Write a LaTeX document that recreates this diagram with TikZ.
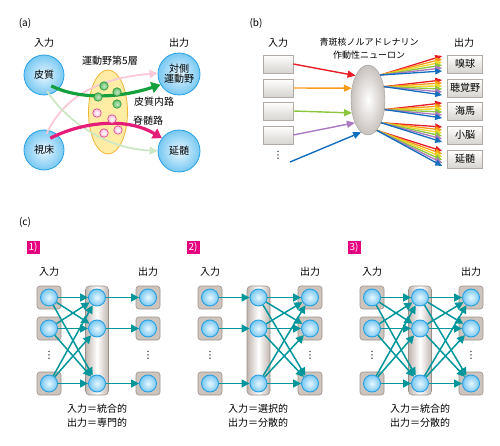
\documentclass[tikz,border=0pt]{standalone}
\usepackage{fontspec}
\setmainfont{Noto Sans CJK JP}
\newfontfamily\dotsfont{DejaVu Sans}
\usetikzlibrary{shapes.geometric,arrows.meta,calc,positioning}

\definecolor{cirin}{RGB}{232,247,255}
\definecolor{cirout}{RGB}{120,200,242}
\definecolor{cirline}{RGB}{40,160,228}
\definecolor{layerfill}{RGB}{255,236,165}
\definecolor{layerline}{RGB}{242,180,55}
\definecolor{gdotline}{RGB}{40,150,60}
\definecolor{gdotfill}{RGB}{95,190,100}
\definecolor{pdotline}{RGB}{228,60,140}
\definecolor{pdotfill}{RGB}{250,190,215}
\definecolor{garrow}{RGB}{20,160,60}
\definecolor{marrow}{RGB}{228,30,120}
\definecolor{lparrow}{RGB}{250,200,215}
\definecolor{lgarrow}{RGB}{205,230,195}
\definecolor{rbred}{RGB}{230,30,40}
\definecolor{rborange}{RGB}{245,155,25}
\definecolor{rbyellow}{RGB}{238,215,40}
\definecolor{rbgreen}{RGB}{140,198,60}
\definecolor{rbpurple}{RGB}{172,120,190}
\definecolor{rbblue}{RGB}{20,110,190}
\definecolor{boxgray}{RGB}{215,212,208}
\definecolor{boxline}{RGB}{175,170,165}
\definecolor{lcgray}{RGB}{200,194,190}
\definecolor{cellfill}{RGB}{205,196,190}
\definecolor{cellline}{RGB}{155,145,140}
\definecolor{bargray}{RGB}{192,182,176}
\definecolor{tealline}{RGB}{0,150,155}
\definecolor{tagpink}{RGB}{228,0,126}

\tikzset{
  region/.style={circle, minimum size=40pt, inner sep=0pt, align=center,
    shading=radial, inner color=cirin, outer color=cirout, draw=cirline, line width=0.8pt},
  gdot/.style={circle, minimum size=8.5pt, inner sep=0pt,
    shading=radial, inner color=gdotfill!35!white, outer color=gdotfill, draw=gdotline, line width=0.6pt},
  pdot/.style={circle, minimum size=8.5pt, inner sep=0pt,
    shading=radial, inner color=white, outer color=pdotfill, draw=pdotline, line width=0.6pt},
  thickpath/.style={line width=3.2pt, -{Triangle[length=9pt,width=11pt]}, shorten <=-8pt},
  thinpath/.style={line width=1.8pt, -{Triangle[length=8pt,width=8pt]}, shorten <=-4pt},
  srcbox/.style={rectangle, minimum width=30pt, minimum height=18pt, inner sep=0pt,
    top color=white, bottom color=boxgray, draw=boxline, line width=0.6pt},
  inpath/.style={line width=1.4pt, -{Triangle[length=8pt,width=7pt]}},
  fanpath/.style={line width=1.3pt, -{Triangle[length=7pt,width=6pt]}},
  cellbox/.style={rectangle, rounded corners=3pt, minimum width=24pt, minimum height=23pt,
    fill=cellfill, draw=cellline, line width=0.6pt},
  cell/.style={circle, minimum size=17pt, inner sep=0pt,
    shading=radial, inner color=cirin, outer color=cirout, draw=cirline, line width=0.9pt},
  hubbar/.style={rectangle, rounded corners=4pt, minimum width=23pt, minimum height=109pt,
    left color=bargray, right color=bargray, middle color=white, draw=cellline, line width=0.6pt},
  link/.style={tealline, line width=1.5pt, -{Triangle[length=8pt,width=8pt]}},
  vdotsnode/.style={inner sep=0pt, font=\dotsfont\fontsize{10}{12}\selectfont},
  numtag/.style={fill=tagpink, text=white, inner sep=1pt, minimum width=13pt, minimum height=13pt,
    font=\fontsize{10}{11}\selectfont},
  caption/.style={align=center, font=\fontsize{10}{14}\selectfont}
}

\begin{document}
\begin{tikzpicture}[x=1pt, y=-1pt, font=\fontsize{10}{12}\selectfont]
\useasboundingbox (0,0) rectangle (500,446);

% (a)
\node (tag-a) at (25,23) {(a)};
\node (ina) at (44,43) {入力};
\node (outa) at (179,43) {出力};
\node[region] (cortex) at (44,75) {皮質};
\node[region] (thalamus) at (44,150) {視床};
\node[region, minimum size=42pt] (motor) at (179,74) {対側\\[-2pt]運動野};
\node[region, minimum size=42pt] (medulla) at (179,151) {延髄};
\node[ellipse, minimum width=39pt, minimum height=84pt, inner sep=0pt,
  fill=layerfill, draw=layerline, line width=0.8pt] (layer5) at (108,112) {};
\node (layer5-lbl) at (110,61) {運動野第5層};
\node (cc-lbl) at (154,102) {皮質内路};
\node (cs-lbl) at (148,121) {脊髄路};

\draw[thinpath, lparrow] (thalamus.78) .. controls (65,95) and (100,78) .. (motor.178);
\draw[thinpath, lgarrow] (cortex.-75) .. controls (62,115) and (100,148) .. (medulla.180);
\draw[thickpath, garrow] (cortex.-45) .. controls (80,100) and (120,98) .. (motor.-150);
\draw[thickpath, marrow] (thalamus.49) .. controls (80,123) and (125,116) .. (medulla.143);

\node[gdot] (g1) at (104,86) {};
\node[gdot] (g2) at (117,92) {};
\node[gdot] (g3) at (98,97) {};
\node[gdot] (g4) at (117,104) {};
\node[pdot] (p1) at (97,113) {};
\node[pdot] (p2) at (112,119) {};
\node[pdot] (p3) at (118,130) {};
\node[pdot] (p4) at (104,133) {};

% (b)
\node (tag-b) at (256,23) {(b)};
\node (inb) at (278,43) {入力};
\node (outb) at (464,43) {出力};
\node[align=center, font=\fontsize{9}{13}\selectfont] (lc-lbl) at (369,49) {青斑核ノルアドレナリン\\作動性ニューロン};
\node[ellipse, minimum width=34pt, minimum height=70pt, inner sep=0pt,
  shading=radial, inner color=white, outer color=lcgray, draw=lcgray!80!black, line width=0.4pt] (lc) at (368,100) {};

\node[srcbox] (inb1) at (278,64) {};
\node[srcbox] (inb2) at (278,88) {};
\node[srcbox] (inb3) at (278,111) {};
\node[srcbox] (inb4) at (278,135) {};
\node[vdotsnode] (inb-dots) at (278,155) {⋮};
\coordinate (in5) at (290,162);

\node[srcbox, minimum width=35pt] (outb1) at (465,64) {嗅球};
\node[srcbox, minimum width=35pt] (outb2) at (465,88) {聴覚野};
\node[srcbox, minimum width=35pt] (outb3) at (465,111) {海馬};
\node[srcbox, minimum width=35pt] (outb4) at (465,135) {小脳};
\node[srcbox, minimum width=35pt] (outb5) at (465,159) {延髄};

\draw[inpath, rbred] (inb1.east) -- (lc.117);
\draw[inpath, rborange] (inb2.east) -- (lc.144);
\draw[inpath, rbgreen] (inb3.east) -- (lc.219);
\draw[inpath, rbpurple] (inb4.east) -- (lc.240);
\draw[inpath, rbblue] (in5) -- (lc.258);

\foreach \k/\a in {1/64, 2/40, 3/-30, 4/-60, 5/-74}
  \foreach \c/\o in {rbred/-8, rborange/-5, rbyellow/-2, rbgreen/1, rbpurple/4, rbblue/7}
    \draw[fanpath, \c] (lc.\a) -- ($(outb\k.west)+(-5,\o)$);

% (c)
\node (tag-c) at (25,222) {(c)};
\foreach \p/\xi/\xm/\xo in {1/49/97/148, 2/210/258.5/310, 3/372/420/471}{
  \node[hubbar] (bar-\p) at (\xm,340.5) {};
  \node (lin-\p) at (\xi,272) {入力};
  \node (lout-\p) at (\xo,272) {出力};
  \foreach \r/\y in {1/297.5, 2/328.5, 3/383.5}{
    \node[cellbox] (ib-\p-\r) at (\xi,\y) {};
    \node[cell] (in-\p-\r) at (\xi,\y) {};
    \node[cell] (hub-\p-\r) at (\xm,\y) {};
    \node[cellbox] (ob-\p-\r) at (\xo,\y) {};
    \node[cell] (out-\p-\r) at (\xo,\y) {};
  }
  \node[vdotsnode] (vin-\p) at (\xi,355) {⋮};
  \node[vdotsnode] (vout-\p) at (\xo,355) {⋮};
}

% 1) all inputs to every hub, one output each
\foreach \r in {1,2,3}{
  \foreach \s in {1,2,3}
    \draw[link] (in-1-\r) -- (hub-1-\s);
  \draw[link] (hub-1-\r) -- (out-1-\r);
}
% 2) one input each, every hub to all outputs
\foreach \r in {1,2,3}{
  \draw[link] (in-2-\r) -- (hub-2-\r);
  \foreach \s in {1,2,3}
    \draw[link] (hub-2-\r) -- (out-2-\s);
}
% 3) both sides fully connected
\foreach \r in {1,2,3}
  \foreach \s in {1,2,3}{
    \draw[link] (in-3-\r) -- (hub-3-\s);
    \draw[link] (hub-3-\r) -- (out-3-\s);
  }

\node[numtag] (tag-1) at (33,247) {1)};
\node[numtag] (tag-2) at (193,247) {2)};
\node[numtag] (tag-3) at (354,247) {3)};
\node[caption] (cap-1) at (97,416) {入力＝統合的\\出力＝専門的};
\node[caption] (cap-2) at (258,416) {入力＝選択的\\出力＝分散的};
\node[caption] (cap-3) at (420,416) {入力＝統合的\\出力＝分散的};
\end{tikzpicture}
\end{document}
